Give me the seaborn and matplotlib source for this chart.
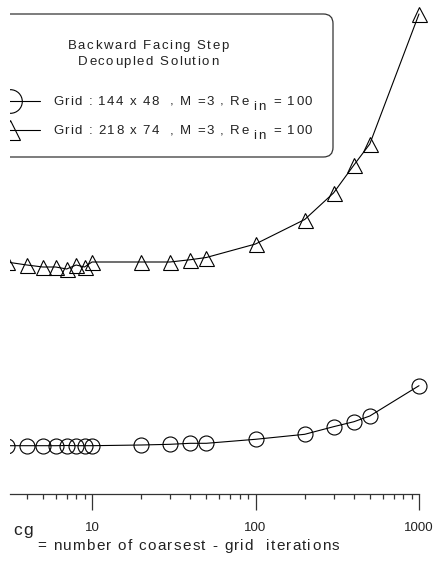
import matplotlib
matplotlib.use("Agg")
import matplotlib.pyplot as plt
from matplotlib.patches import FancyBboxPatch
from matplotlib.lines import Line2D
from matplotlib.transforms import Bbox
import pandas as pd
import seaborn as sns

# Number of coarsest-grid iterations
cg_iters = [3, 4, 5, 6, 7, 8, 9, 10, 20, 30, 40, 50, 100, 200, 300, 400, 500, 1000]
# Cost for the 144 x 48 grid
cost_144x48 = [47.8, 47.8, 47.8, 47.8, 48.0, 47.8, 47.8, 47.8, 48.5, 49.2, 50.2, 50.2,
               54.2, 59.2, 66.8, 71.8, 77.5, 107.8]
# Cost for the 218 x 74 grid
cost_218x74 = [231.5, 228.5, 226.5, 226.5, 224.5, 228.5, 226.5, 231.5, 231.5, 231.5, 233.8,
               236.0, 249.5, 274.0, 300.5, 328.5, 349.5, 479.5]

title_lines = ["Backward Facing Step", "Decoupled Solution"]
grid_labels = ["Grid : 144 x 48  , M =3 , Re", "Grid : 218 x 74  , M =3 , Re"]
re_subscript = "in"
re_value = "= 100"
xlabel_sym = "cg"
xlabel_text = "= number of coarsest - grid  iterations"
xtick_values = [10, 100, 1000]
xtick_labels = ["10", "100", "1000"]

sns.set_theme(style="white")
plt.rcParams["font.family"] = ["Liberation Sans", "DejaVu Sans"]

W, H = 438, 564
LEFT = 10  # left edge of the drawing area, px
TEXT_COLOR = "#222222"
fig = plt.figure(figsize=(W / 100, H / 100), dpi=100)
fig.patch.set_facecolor("white")
renderer = fig.canvas.get_renderer()
clip_region = Bbox.from_extents(LEFT, 0, W, H)


def fx(px):
    return px / W


def fy(py):
    return 1 - py / H


def clipped(artist):
    artist.set_clip_on(True)
    artist.set_clip_box(clip_region)
    return artist


def text_width(s, size):
    """Advance width in pixels (a bar is appended so trailing spaces count)."""
    t = fig.text(0, 0, s + "|", fontsize=size)
    bar = fig.text(0, 0, "|", fontsize=size)
    w = t.get_window_extent(renderer).width - bar.get_window_extent(renderer).width
    t.remove()
    bar.remove()
    return w


def tracked_text(x_px, base_px, s, size, track, ha="left"):
    """Draw a string letter by letter with extra spacing; returns right edge (px)."""
    total = text_width(s, size) + track * (len(s) - 1)
    x0 = x_px - total / 2 if ha == "center" else x_px
    for i, ch in enumerate(s):
        if ch == " ":
            continue
        xi = x0 + text_width(s[:i], size) + i * track
        fig.text(xi / W, fy(base_px), ch, fontsize=size, ha="left", va="baseline",
                 color=TEXT_COLOR)
    return x0 + total


axis_y = 493.5
x_at_10, px_per_decade = 92, 163.5
ax = fig.add_axes([fx(LEFT), fy(axis_y), fx(419 - LEFT), axis_y / H])
ax.set_facecolor("none")

df = pd.DataFrame({"cg": cg_iters * 2,
                   "cost": cost_144x48 + cost_218x74,
                   "grid": ["144x48"] * len(cg_iters) + ["218x74"] * len(cg_iters)})

common = dict(color="black", linewidth=0.8, markersize=10.8, markerfacecolor="none",
              markeredgecolor="black", markeredgewidth=0.8)
sns.lineplot(data=df[df.grid == "144x48"], x="cg", y="cost", marker="o", ax=ax,
             legend=False, **common)
sns.lineplot(data=df[df.grid == "218x74"], x="cg", y="cost", marker="^", ax=ax,
             legend=False, **common)
for line in ax.lines:
    clipped(line)

ax.set_xscale("log")
ax.set_xlim(10 ** (1 - (x_at_10 - LEFT) / px_per_decade), 1000)
ax.set_ylim(0, axis_y)
ax.set_xlabel("")
ax.set_ylabel("")
ax.set_yticks([])
for side in ["left", "right", "top"]:
    ax.spines[side].set_visible(False)
ax.spines["bottom"].set_color("#333333")
ax.spines["bottom"].set_linewidth(0.9)
ax.set_xticks(xtick_values)
ax.set_xticklabels(xtick_labels)
ax.tick_params(axis="x", which="major", direction="out", length=11.5, width=0.9,
               color="#333333", pad=9, labelsize=9.5, labelcolor=TEXT_COLOR, bottom=True)
ax.tick_params(axis="x", which="minor", direction="out", length=3.6, width=0.9,
               color="#333333", bottom=True)

# Axis caption
tracked_text(13, 535, xlabel_sym, 12.5, 1.0)
tracked_text(37, 550, xlabel_text, 11, 1.3)

# Legend box
box = FancyBboxPatch((fx(-30), fy(157)), fx(333) - fx(-30), fy(14) - fy(157),
                     boxstyle="round,pad=0,rounding_size=0.022",
                     transform=fig.transFigure, facecolor="white", edgecolor="#333333",
                     linewidth=0.9, mutation_aspect=W / H)
fig.add_artist(clipped(box))
tracked_text(148, 49, title_lines[0], 9.5, 1.5, ha="center")
tracked_text(148, 65, title_lines[1], 9.5, 1.5, ha="center")

entry_y = [101, 130]
entry_markers = [("o", 17, 10), ("^", 14, 10)]
for yy, (mk, ms, mx), label in zip(entry_y, entry_markers, grid_labels):
    fig.add_artist(clipped(Line2D([fx(0), fx(40)], [fy(yy), fy(yy)],
                                  transform=fig.transFigure, color="black",
                                  linewidth=0.8)))
    fig.add_artist(clipped(Line2D([fx(mx)], [fy(yy)], transform=fig.transFigure,
                                  marker=mk, markersize=ms, markerfacecolor="none",
                                  markeredgecolor="black", markeredgewidth=0.8,
                                  linestyle="none")))
    x1 = tracked_text(53, yy + 4, label, 9.5, 1.35)
    x2 = tracked_text(x1 + 5, yy + 9, re_subscript, 9.5, 1.35)
    tracked_text(x2 + 8, yy + 4, re_value, 9.5, 1.35)

fig.savefig("out.png", dpi=100, facecolor="white")
